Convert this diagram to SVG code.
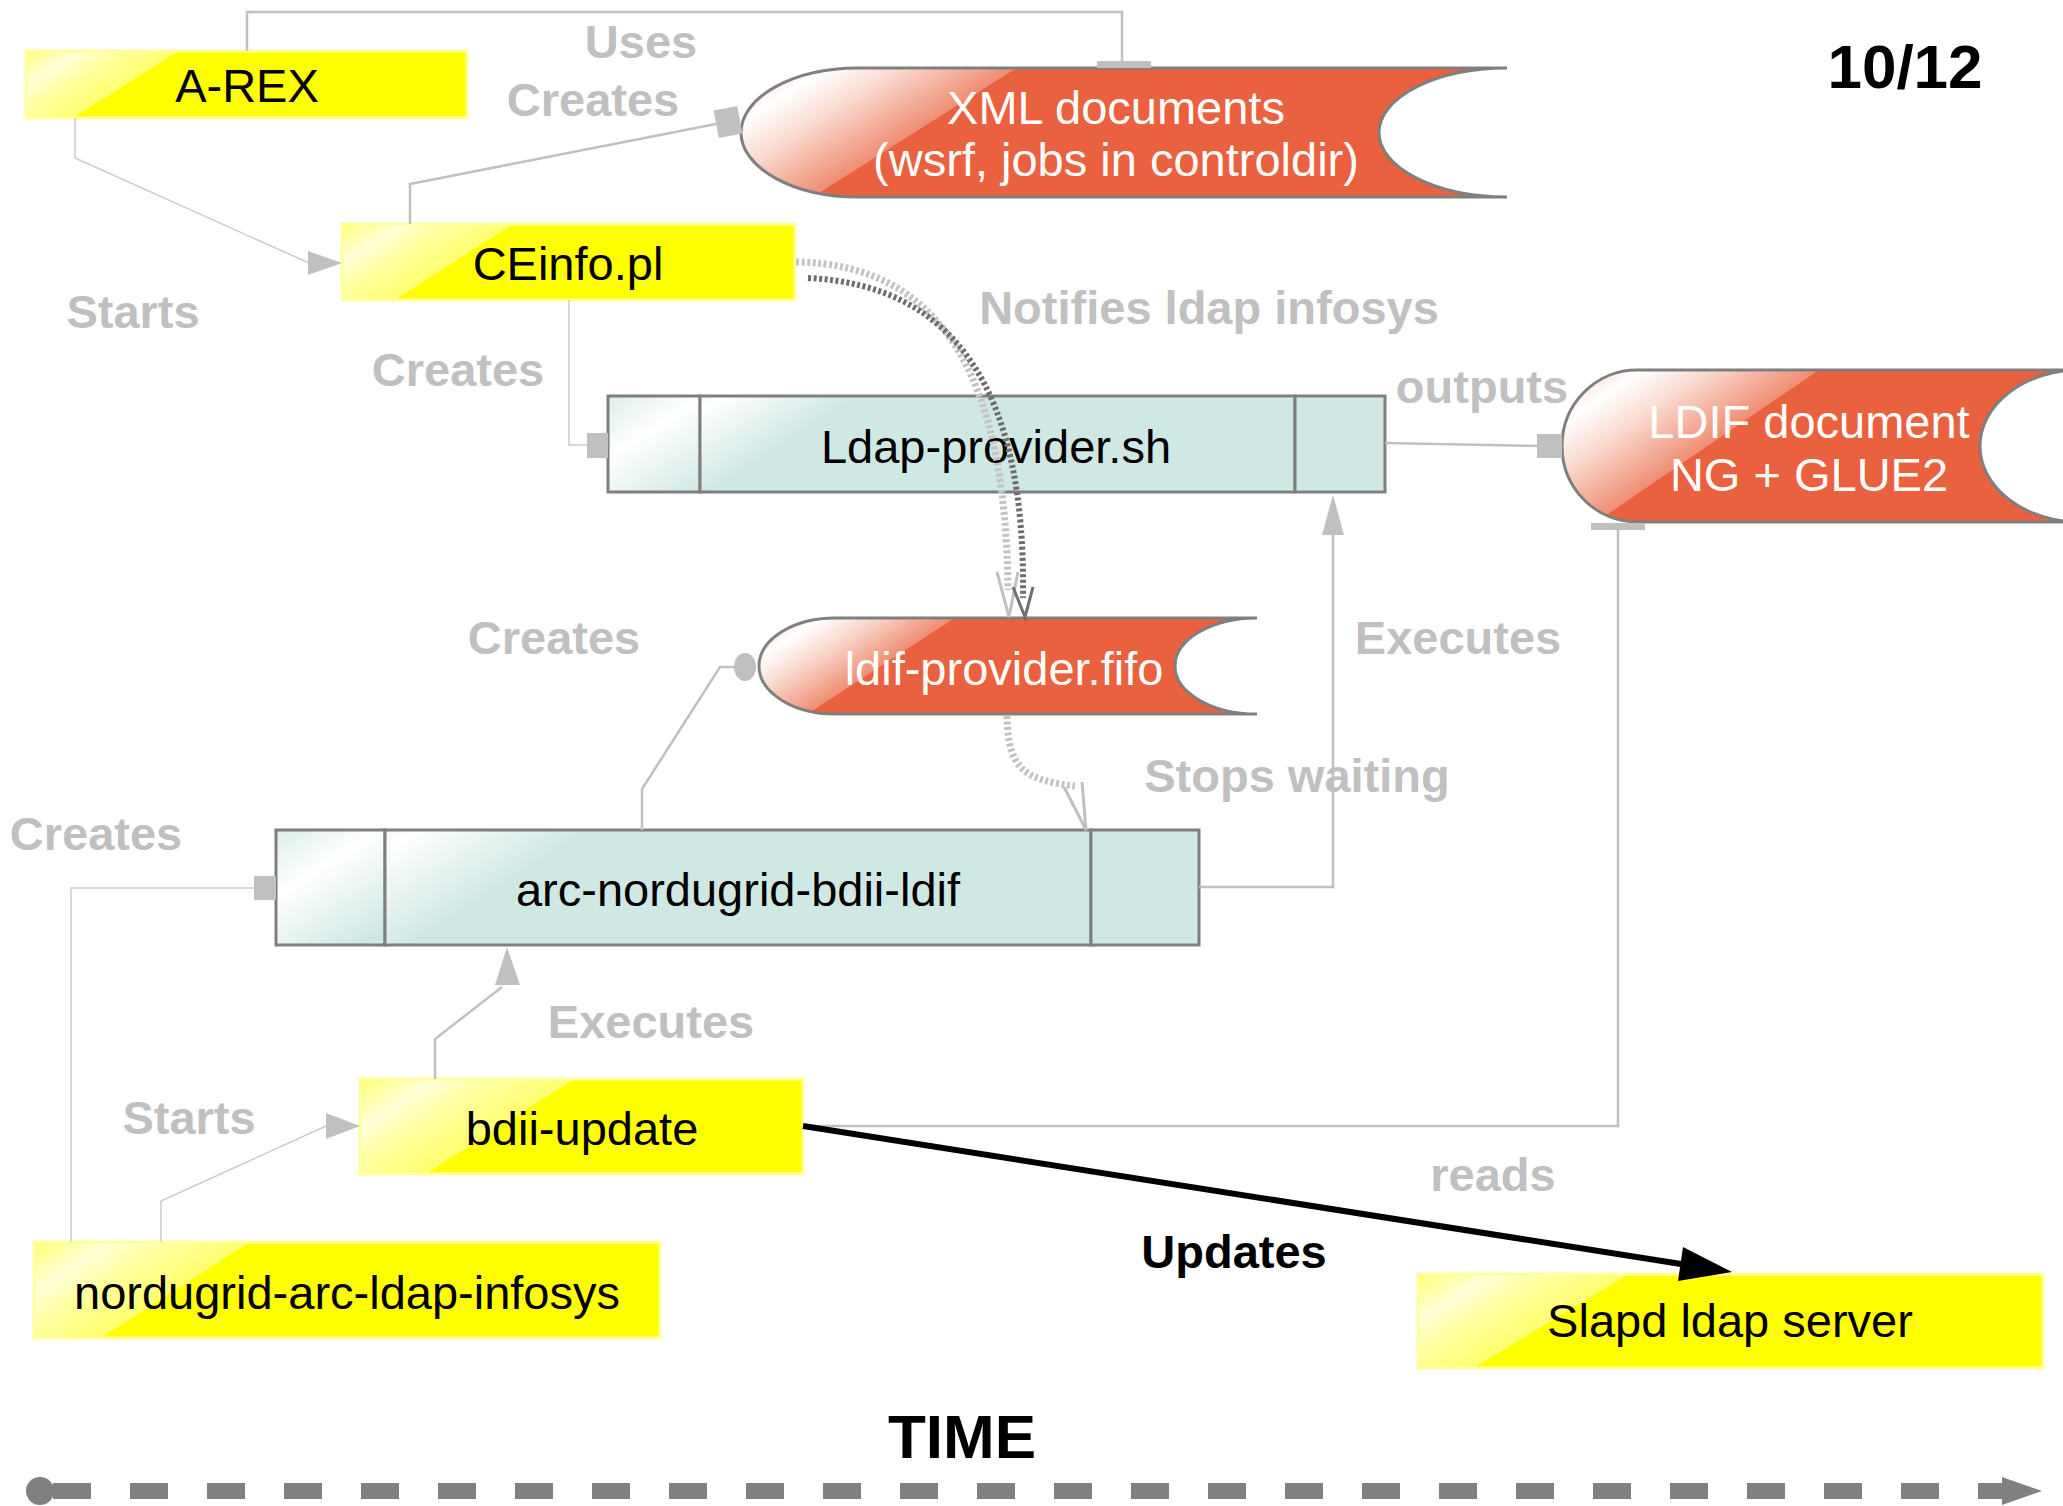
<svg xmlns="http://www.w3.org/2000/svg" width="2063" height="1506" viewBox="0 0 2063 1506">
<style>
.nt{font-family:"Liberation Sans",Arial,sans-serif;font-size:47px;text-anchor:middle;fill:#000}
.wt{font-family:"Liberation Sans",Arial,sans-serif;font-size:47px;text-anchor:middle;fill:#fff}
.lb{font-family:"Liberation Sans",Arial,sans-serif;font-size:47px;font-weight:bold;text-anchor:middle;fill:#c0c0c0}
.bk{font-family:"Liberation Sans",Arial,sans-serif;font-weight:bold;text-anchor:middle;fill:#000}
.yb{stroke:#ffffa0;stroke-width:3}
.tl{stroke:#7f7f7f;stroke-width:3}
.rd{stroke:#7f7f7f;stroke-width:3}
.cn{fill:none;stroke:#c0c0c0;stroke-width:2.5}
.ct{fill:none;stroke:#cccccc;stroke-width:1.5}
.mk{fill:#c0c0c0}
.dl{fill:none;stroke:#c4c4c4;stroke-width:7;stroke-dasharray:3 2.5}
.dd{fill:none;stroke:#6e6e6e;stroke-width:6;stroke-dasharray:3 2.5}
</style>
<defs>
<linearGradient id="ygS">
<stop offset="0" stop-color="#ffff70"/><stop offset="0.35" stop-color="#ffffd8"/><stop offset="0.6" stop-color="#ffffa0"/><stop offset="0.97" stop-color="#ffff70"/><stop offset="0.975" stop-color="#ffff00"/><stop offset="1" stop-color="#ffff00"/>
</linearGradient>
<linearGradient id="gA" href="#ygS" gradientUnits="userSpaceOnUse" x1="26" y1="51" x2="71" y2="122"/>
<linearGradient id="gC" href="#ygS" gradientUnits="userSpaceOnUse" x1="342" y1="224" x2="393" y2="304"/>
<linearGradient id="gB" href="#ygS" gradientUnits="userSpaceOnUse" x1="360" y1="1079" x2="424" y2="1179"/>
<linearGradient id="gN" href="#ygS" gradientUnits="userSpaceOnUse" x1="34" y1="1242" x2="99" y2="1343"/>
<linearGradient id="gS" href="#ygS" gradientUnits="userSpaceOnUse" x1="1418" y1="1274" x2="1476" y2="1370"/>
<linearGradient id="rgS">
<stop offset="0" stop-color="#f6c8ba"/><stop offset="0.3" stop-color="#ffffff"/><stop offset="0.55" stop-color="#fadcd2"/><stop offset="0.97" stop-color="#ef8e74"/><stop offset="0.975" stop-color="#e9613f"/><stop offset="1" stop-color="#e9613f"/>
</linearGradient>
<linearGradient id="gX" href="#rgS" gradientUnits="userSpaceOnUse" x1="741" y1="68" x2="822" y2="196"/>
<linearGradient id="gL" href="#rgS" gradientUnits="userSpaceOnUse" x1="1562" y1="370" x2="1646" y2="493"/>
<linearGradient id="gF" href="#rgS" gradientUnits="userSpaceOnUse" x1="759" y1="618" x2="819" y2="710"/>
<linearGradient id="tgL">
<stop offset="0" stop-color="#dceeeb"/><stop offset="0.4" stop-color="#ffffff"/><stop offset="1" stop-color="#d0e8e4"/>
</linearGradient>
<linearGradient id="tgM">
<stop offset="0" stop-color="#f0f8f7"/><stop offset="0.15" stop-color="#ffffff"/><stop offset="1" stop-color="#d0e8e4"/>
</linearGradient>
<linearGradient id="gPL" href="#tgL" gradientUnits="userSpaceOnUse" x1="608" y1="396" x2="678" y2="505"/>
<linearGradient id="gPM" href="#tgM" gradientUnits="userSpaceOnUse" x1="700" y1="396" x2="746" y2="467"/>
<linearGradient id="gRL" href="#tgL" gradientUnits="userSpaceOnUse" x1="276" y1="830" x2="352" y2="948"/>
<linearGradient id="gRM" href="#tgM" gradientUnits="userSpaceOnUse" x1="385" y1="830" x2="444" y2="922"/>
</defs>
<rect width="2063" height="1506" fill="#ffffff"/>

<g id="arex"><rect x="26" y="51" width="441" height="67" fill="url(#gA)" class="yb"/><text class="nt" x="247" y="102">A-REX</text></g>
<g id="ceinfo"><rect x="342" y="224" width="453" height="76" fill="url(#gC)" class="yb"/><text class="nt" x="568" y="280">CEinfo.pl</text></g>
<g id="xmldocs"><path d="M858,68 L1507,68 A128,64.5 0 0 0 1507,197 L858,197 A117,64.5 0 0 1 858,68 Z" fill="url(#gX)" class="rd"/><text class="wt" x="1116" y="124">XML documents</text><text class="wt" x="1116" y="176">(wsrf, jobs in controldir)</text></g>
<g id="ldapprovider"><rect x="608" y="396" width="92" height="96" fill="url(#gPL)" class="tl"/><rect x="700" y="396" width="595" height="96" fill="url(#gPM)" class="tl"/><rect x="1295" y="396" width="90" height="96" fill="#d0e8e4" class="tl"/><text class="nt" x="996" y="463">Ldap-provider.sh</text></g>
<g id="ldif"><path d="M1637,370 L2080,370 A100,76 0 0 0 2080,522 L1637,522 A75,76 0 0 1 1637,370 Z" fill="url(#gL)" class="rd"/><text class="wt" x="1809" y="438">LDIF document</text><text class="wt" x="1809" y="491">NG + GLUE2</text></g>
<g id="fifo"><path d="M835,618 L1257,618 A82,48 0 0 0 1257,714 L835,714 A76,48 0 0 1 835,618 Z" fill="url(#gF)" class="rd"/><text class="wt" x="1004" y="685">ldif-provider.fifo</text></g>
<g id="bdiildif"><rect x="276" y="830" width="109" height="115" fill="url(#gRL)" class="tl"/><rect x="385" y="830" width="706" height="115" fill="url(#gRM)" class="tl"/><rect x="1091" y="830" width="108" height="115" fill="#d0e8e4" class="tl"/><text class="nt" x="738" y="906">arc-nordugrid-bdii-ldif</text></g>
<g id="bdiiupdate"><rect x="360" y="1079" width="443" height="95" fill="url(#gB)" class="yb"/><text class="nt" x="582" y="1145">bdii-update</text></g>
<g id="infosys"><rect x="34" y="1242" width="626" height="96" fill="url(#gN)" class="yb"/><text class="nt" x="347" y="1309">nordugrid-arc-ldap-infosys</text></g>
<g id="slapd"><rect x="1418" y="1274" width="625" height="94" fill="url(#gS)" class="yb"/><text class="nt" x="1730" y="1337">Slapd ldap server</text></g>

<g id="connectors">
<polyline class="cn" points="247,51 247,12 1122,12 1122,62"/>
<rect class="mk" x="1097" y="61" width="54" height="7"/>
<polyline class="cn" points="410,224 410,184 716,124"/>
<rect class="mk" x="-12" y="-14" width="24" height="28" transform="translate(728,122) rotate(-11)"/>
<polyline class="ct" points="75,118 75,158 309,263"/>
<polygon class="mk" points="308,251 342,263 308,275"/>
<polyline class="ct" points="569,300 569,445 590,445"/>
<rect class="mk" x="587" y="433" width="21" height="25"/>
<polyline class="cn" points="1385,443 1540,446"/>
<rect class="mk" x="1537" y="434" width="25" height="24"/>
<rect class="mk" x="1591" y="523" width="54" height="7"/>
<polyline class="cn" points="1618,530 1618,1126 803,1126"/>
<path class="dl" d="M796,262 C950,264 1006,390 1008,590"/>
<path class="dd" d="M808,278 C955,285 1026,390 1023,598"/>
<polyline fill="none" stroke="#c0c0c0" stroke-width="3" points="997,572 1009,617 1018,572"/>
<polyline fill="none" stroke="#707070" stroke-width="3" points="1013,587 1025,617 1033,587"/>
<polyline class="cn" points="642,830 642,789 720,667 735,667"/>
<ellipse class="mk" cx="745" cy="667" rx="11" ry="14"/>
<path class="dl" d="M1007,716 C1008,770 1025,780 1075,786"/>
<polyline fill="none" stroke="#c0c0c0" stroke-width="3" points="1064,787 1086,830 1082,782"/>
<polyline class="cn" points="1199,887 1333,887 1333,535"/>
<polygon class="mk" points="1333,495 1344,535 1322,535"/>
<polyline class="ct" points="71,1242 71,888 255,888"/>
<rect class="mk" x="254" y="876" width="22" height="24"/>
<polyline class="cn" points="435,1079 435,1039 502,987"/>
<polygon class="mk" points="507,947 520,985 495,985"/>
<polyline class="ct" points="161,1242 161,1201 326,1126"/>
<polygon class="mk" points="326,1113 360,1126 326,1139"/>
<line x1="803" y1="1126" x2="1681" y2="1264" stroke="#000" stroke-width="6"/>
<polygon fill="#000" points="1732,1272 1683,1247 1678,1281"/>
</g>

<g id="timeaxis">
<line x1="53" y1="1491" x2="2002" y2="1491" stroke="#808080" stroke-width="16" stroke-dasharray="38 39"/>
<circle cx="40" cy="1491" r="14" fill="#808080"/>
<polygon fill="#808080" points="2002,1477 2042,1491 2002,1505"/>
</g>

<g id="labels">
<text class="lb" x="641" y="58">Uses</text>
<text class="lb" x="593" y="116">Creates</text>
<text class="lb" x="133" y="328">Starts</text>
<text class="lb" x="458" y="386">Creates</text>
<text class="lb" x="1209" y="324">Notifies ldap infosys</text>
<text class="lb" x="1482" y="403">outputs</text>
<text class="lb" x="554" y="654">Creates</text>
<text class="lb" x="1458" y="654">Executes</text>
<text class="lb" x="1297" y="792">Stops waiting</text>
<text class="lb" x="96" y="850">Creates</text>
<text class="lb" x="651" y="1038">Executes</text>
<text class="lb" x="189" y="1134">Starts</text>
<text class="lb" x="1493" y="1191">reads</text>
<text class="bk" x="1234" y="1268" font-size="47">Updates</text>
<text class="bk" x="962" y="1458" font-size="62">TIME</text>
<text class="bk" x="1905" y="88" font-size="62">10/12</text>
</g>
</svg>
